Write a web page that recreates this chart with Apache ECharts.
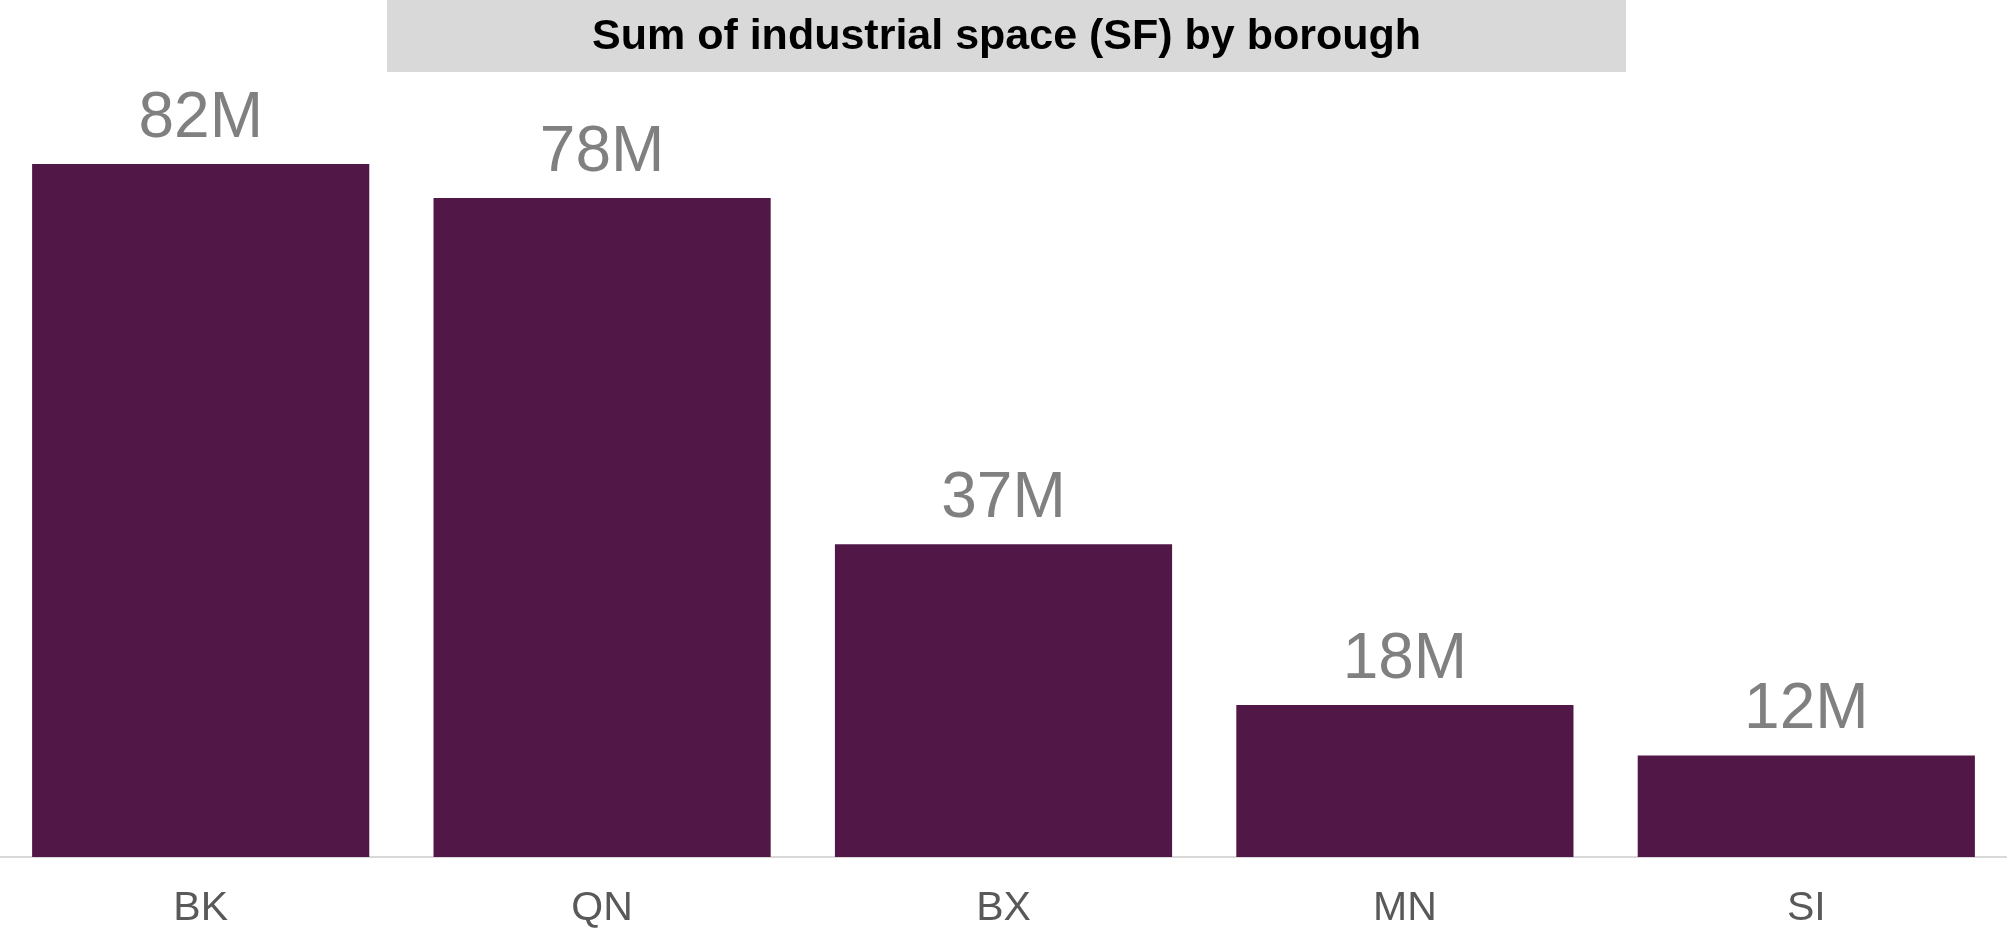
<!DOCTYPE html>
<html>
<head>
<meta charset="utf-8">
<title>Sum of industrial space (SF) by borough</title>
<script src="https://cdn.jsdelivr.net/npm/echarts@6/dist/echarts.min.js"></script>
<style>
  html, body { margin: 0; padding: 0; background: #ffffff; }
  #chart { width: 2007px; height: 929px; }
</style>
</head>
<body>
<div id="chart"></div>
<script>
// Borough abbreviations along the x axis
const boroughs = ['BK', 'QN', 'BX', 'MN', 'SI'];
// Industrial floor space per borough, in square feet
const industrialSpace = [82e6, 78e6, 37e6, 18e6, 12e6];
const chartTitle = 'Sum of industrial space (SF) by borough';

const FONT = '"Liberation Sans", Arial, Helvetica, sans-serif';

function toMillions(v) {
  return Math.round(v / 1e6) + 'M';
}

const chart = echarts.init(document.getElementById('chart'), null, { renderer: 'canvas' });

chart.setOption({
  backgroundColor: '#ffffff',
  animation: false,
  graphic: [
    {
      type: 'group',
      left: 387,
      top: 0,
      children: [
        {
          type: 'rect',
          shape: { x: 0, y: 0, width: 1239, height: 72 },
          style: { fill: '#d9d9d9' }
        },
        {
          type: 'text',
          x: 619.5,
          y: 37,
          style: {
            text: chartTitle,
            fill: '#000000',
            font: 'bold 43px ' + FONT,
            textAlign: 'center',
            textVerticalAlign: 'middle'
          }
        }
      ]
    }
  ],
  grid: {
    left: 0,
    right: 0,
    top: 12,
    bottom: 71,
    containLabel: false
  },
  xAxis: {
    type: 'category',
    data: boroughs,
    axisLine: { show: true, lineStyle: { color: '#d9d9d9', width: 2 } },
    axisTick: { show: false },
    axisLabel: {
      color: '#595959',
      fontFamily: FONT,
      fontSize: 41,
      margin: 31
    }
  },
  yAxis: {
    type: 'value',
    min: 0,
    max: 100e6,
    show: false,
    splitLine: { show: false }
  },
  series: [
    {
      type: 'bar',
      data: industrialSpace,
      barCategoryGap: '16%',
      itemStyle: { color: '#501747' },
      label: {
        show: true,
        position: 'top',
        distance: 13,
        color: '#808080',
        fontFamily: FONT,
        fontSize: 64,
        formatter: p => toMillions(p.value)
      }
    }
  ]
});
</script>
</body>
</html>
